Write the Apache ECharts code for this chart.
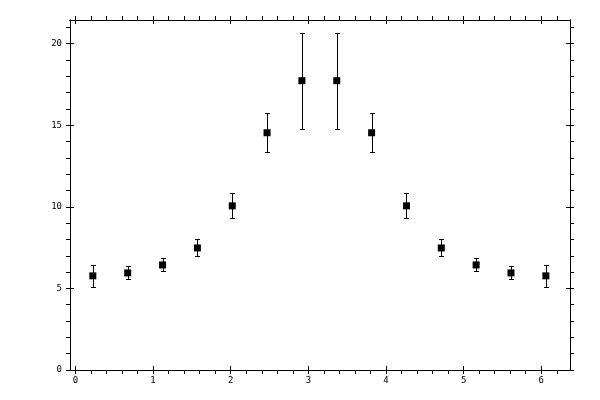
<!DOCTYPE html>
<html><head><meta charset="utf-8">
<script src="https://cdn.jsdelivr.net/npm/echarts@6/dist/echarts.min.js"></script>
<style>html,body{margin:0;padding:0;background:#fff}#c{width:600px;height:400px}</style>
</head><body><div id="c"></div>
<script>
const xValues = [0.224, 0.673, 1.122, 1.571, 2.020, 2.468, 2.917, 3.366, 3.815, 4.264, 4.712, 5.161, 5.610, 6.059];
const yValues = [5.77, 5.95, 6.44, 7.48, 10.06, 14.54, 17.73, 17.73, 14.54, 10.06, 7.48, 6.44, 5.95, 5.77];
const yErrors = [0.67, 0.40, 0.40, 0.52, 0.77, 1.20, 2.95, 2.95, 1.20, 0.77, 0.52, 0.40, 0.40, 0.67];
const xTickLabels = [0, 1, 2, 3, 4, 5, 6];
const yTickLabels = [0, 5, 10, 15, 20];
const xMinorStep = 0.2, xMinorMax = 6.3;
const yMinorStep = 1, yMinorMax = 21.4;
const xMin = -0.07, xMax = 6.37;
const yMin = 0, yMax = 21.45;

const xOuterTicks = [];
for (let v = 0; v <= xMinorMax; v += xMinorStep) xOuterTicks.push(+v.toFixed(3));
const yOuterTicks = [];
for (let v = 0; v <= yMinorMax; v += yMinorStep) yOuterTicks.push(+v.toFixed(3));

const FONT = 'DejaVu Sans Mono';
const lineStyle = {color: '#000', width: 1};
function xAxisDef(grid, pos, ticks, inside, labels) {
  return {
    type: 'value', gridIndex: grid, position: pos, min: xMin, max: xMax,
    axisLine: {show: true, onZero: false, lineStyle},
    axisTick: {show: true, inside, length: 4, customValues: ticks, lineStyle},
    axisLabel: labels ? {show: true, customValues: labels, margin: 6, color: '#000', fontSize: 9, fontFamily: FONT} : {show: false},
    splitLine: {show: false}
  };
}
function yAxisDef(grid, pos, ticks, inside, labels) {
  return {
    type: 'value', gridIndex: grid, position: pos, min: yMin, max: yMax,
    axisLine: {show: true, onZero: false, lineStyle},
    axisTick: {show: true, inside, length: 4, customValues: ticks, lineStyle},
    axisLabel: labels ? {show: true, customValues: labels, margin: 8, color: '#000', fontSize: 9, fontFamily: FONT} : {show: false},
    splitLine: {show: false}
  };
}

const chart = echarts.init(document.getElementById('c'), null, {renderer: 'canvas'});
const gridRect = {left: 70, top: 20, width: 500, height: 350};
chart.setOption({
  animation: false,
  backgroundColor: '#fff',
  grid: [Object.assign({}, gridRect), Object.assign({}, gridRect)],
  xAxis: [
    xAxisDef(0, 'bottom', xOuterTicks, false, xTickLabels),
    xAxisDef(0, 'top', xOuterTicks, false, null),
    xAxisDef(1, 'bottom', xTickLabels, true, null),
    xAxisDef(1, 'top', xTickLabels, true, null)
  ],
  yAxis: [
    yAxisDef(0, 'left', yOuterTicks, false, yTickLabels),
    yAxisDef(0, 'right', yOuterTicks, false, null),
    yAxisDef(1, 'left', yTickLabels, true, null),
    yAxisDef(1, 'right', yTickLabels, true, null)
  ],
  series: [
    {
      type: 'custom', xAxisIndex: 0, yAxisIndex: 0, z: 2,
      data: xValues.map((x, i) => [x, yValues[i], yErrors[i]]),
      encode: {x: 0, y: 1},
      renderItem: function (params, api) {
        const x = api.value(0), y = api.value(1), e = api.value(2);
        const t = api.coord([x, y + e]), b = api.coord([x, y - e]);
        const cx = Math.round(t[0]) + 0.5;
        const ty = Math.round(t[1]) + 0.5, by = Math.round(b[1]) + 0.5;
        const hw = 2.5;
        const st = {stroke: '#000', lineWidth: 1};
        return {type: 'group', children: [
          {type: 'line', shape: {x1: cx, y1: ty, x2: cx, y2: by}, style: st},
          {type: 'line', shape: {x1: cx - hw, y1: ty, x2: cx + hw, y2: ty}, style: st},
          {type: 'line', shape: {x1: cx - hw, y1: by, x2: cx + hw, y2: by}, style: st}
        ]};
      }
    },
    {
      type: 'scatter', xAxisIndex: 0, yAxisIndex: 0, z: 3,
      symbol: 'rect', symbolSize: 7,
      itemStyle: {color: '#000', opacity: 1},
      emphasis: {disabled: true},
      data: xValues.map((x, i) => [x, yValues[i]])
    }
  ]
});
</script></body></html>
